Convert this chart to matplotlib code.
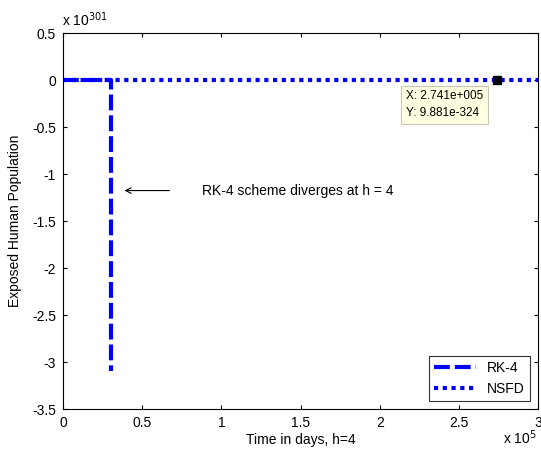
import matplotlib.pyplot as plt

plt.rcParams["font.family"] = ["Liberation Sans", "DejaVu Sans"]

# x in units of 1e5 days, y in units of 1e301
rk4_x = [0, 0.302, 0.302]
rk4_y = [0, 0, -3.09]
nsfd_x = [0, 3.0]
nsfd_y = [0, 0]
tip_x = 2.741
tip_y = 0
tip_label = "X: 2.741e+005\nY: 9.881e-324"
xticks = [0, 0.5, 1, 1.5, 2, 2.5, 3]
yticks = [0.5, 0, -0.5, -1, -1.5, -2, -2.5, -3, -3.5]

fig = plt.figure(figsize=(5.41, 4.54), dpi=100)
ax = fig.add_axes([0.1165, 0.099, 0.878, 0.828])

ax.plot(rk4_x, rk4_y, color="blue", lw=3, dashes=(3.8, 1.2), label="RK-4")
ax.plot(nsfd_x, nsfd_y, color="blue", lw=3, dashes=(1.0, 1.1), label="NSFD")

ax.plot([tip_x], [tip_y], marker="s", color="black", markersize=6, zorder=5)
ax.text(2.165, -0.26, tip_label, fontsize=8.5, va="center", ha="left", linespacing=1.5,
        bbox=dict(boxstyle="square,pad=0.4", fc="#ffffe1", ec="#c8c8b4", lw=0.8))

ax.annotate("", xy=(0.37, -1.175), xytext=(0.69, -1.175),
            arrowprops=dict(arrowstyle="->", color="black", lw=0.8))
ax.text(0.88, -1.175, "RK-4 scheme diverges at h = 4", fontsize=10, va="center")

ax.set_xlim(0, 3)
ax.set_ylim(-3.5, 0.5)
ax.set_xticks(xticks)
ax.set_xticklabels([f"{v:g}" for v in xticks])
ax.set_yticks(yticks)
ax.set_yticklabels([f"{v:g}" for v in yticks])
ax.tick_params(direction="in", top=True, right=True, labelsize=10, length=3, pad=5)

ax.set_xlabel("Time in days, h=4", fontsize=10, labelpad=2)
ax.set_ylabel("Exposed Human Population", fontsize=10, labelpad=7)

fig.text(0.115, 0.943, r"x 10$^{301}$", fontsize=10)
fig.text(0.93, 0.022, r"x 10$^{5}$", fontsize=10)

leg = ax.legend(loc="lower right", fontsize=10, fancybox=False, edgecolor="black",
                handlelength=3.0, borderaxespad=0.6, borderpad=0.35, labelspacing=0.5)
leg.get_frame().set_linewidth(0.8)

fig.savefig("out.png", dpi=100)
